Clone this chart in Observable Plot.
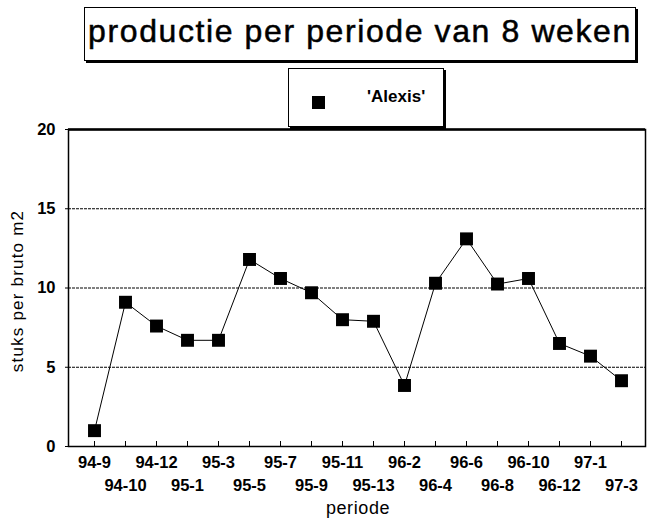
<!DOCTYPE html>
<html><head><meta charset="utf-8">
<script src="https://cdn.jsdelivr.net/npm/d3@7"></script>
<script src="https://cdn.jsdelivr.net/npm/@observablehq/plot@0.6"></script>
<style>
body{margin:0;background:#fff;font-family:"Liberation Sans",Arial,sans-serif;color:#000;}
#wrap{position:relative;width:647px;height:524px;overflow:hidden;}
#chart{position:absolute;left:0;top:0;}
#title{position:absolute;left:84px;top:7px;width:550px;height:52px;border:1.5px solid #000;box-shadow:2px 2px 0 #000;font-size:32px;letter-spacing:1.6px;-webkit-text-stroke:0.5px #000;line-height:46px;text-align:center;white-space:nowrap;background:#fff;}
#legend{position:absolute;left:288px;top:68px;width:154px;height:57px;border:1.5px solid #000;box-shadow:2px 2px 0 #000;background:#fff;z-index:2;}
#legend .sw{position:absolute;left:23px;top:27px;width:13px;height:13px;background:#000;}
#legend .lb{position:absolute;left:78px;top:18px;font-size:17px;font-weight:bold;}
#ylab{position:absolute;left:18px;top:291px;transform:translate(-50%,-50%) rotate(-90deg);font-size:17px;letter-spacing:1.2px;white-space:nowrap;}
#xlab{position:absolute;left:358px;top:508px;transform:translate(-50%,-50%);font-size:18px;letter-spacing:0.6px;}
</style></head>
<body>
<div id="wrap">
  <div id="chart"></div>
  <div id="title">productie per periode van 8 weken</div>
  <div id="legend"><div class="sw"></div><div class="lb">'Alexis'</div></div>
  <div id="ylab">stuks per bruto m2</div>
  <div id="xlab">periode</div>
</div>
<script>
const periods = ["94-9","94-10","94-12","95-1","95-3","95-5","95-7","95-9","95-11","95-13","96-2","96-4","96-6","96-8","96-10","96-12","97-1","97-3"];
const values = [1.0, 9.1, 7.6, 6.7, 6.7, 11.8, 10.6, 9.7, 8.0, 7.9, 3.85, 10.3, 13.1, 10.25, 10.6, 6.5, 5.7, 4.15];
const yTicks = [0, 5, 10, 15, 20];
const gridLines = [5, 10, 15];
const topLine = [20];

const data = periods.map((p, i) => ({periode: p, waarde: values[i]}));
const rowA = periods.filter((d, i) => i % 2 === 0);
const rowB = periods.filter((d, i) => i % 2 === 1);

const chart = Plot.plot({
  width: 647, height: 524,
  marginTop: 129, marginBottom: 78, marginLeft: 68, marginRight: 2,
  style: {fontFamily: '"Liberation Sans", Arial, sans-serif', fontSize: "16.5px", fontWeight: "bold", color: "#000", background: "transparent"},
  x: {type: "point", domain: periods, padding: 0.5, insetLeft: 4, insetRight: 2},
  y: {domain: [0, 20]},
  marks: [
    Plot.ruleY(gridLines, {stroke: "#000", strokeWidth: 1, strokeDasharray: "3,1"}),
    Plot.frame({stroke: "#000", strokeWidth: 1.5}),
    Plot.ruleY(topLine, {stroke: "#000", strokeWidth: 2.5}),
    Plot.axisY({ticks: yTicks, tickSize: 3, tickPadding: 10, label: null}),
    Plot.axisX({ticks: periods, tickSize: 5, dy: -5, tickFormat: () => "", label: null}),
    Plot.axisX({ticks: rowA, tickSize: 0, tickPadding: 10, label: null}),
    Plot.axisX({ticks: rowB, tickSize: 0, tickPadding: 33, label: null}),
    Plot.line(data, {x: "periode", y: "waarde", stroke: "#000", strokeWidth: 1}),
    Plot.dot(data, {x: "periode", y: "waarde", symbol: "square", r: 7.3, fill: "#000", stroke: null})
  ]
});
document.getElementById("chart").appendChild(chart);
</script>
</body></html>
